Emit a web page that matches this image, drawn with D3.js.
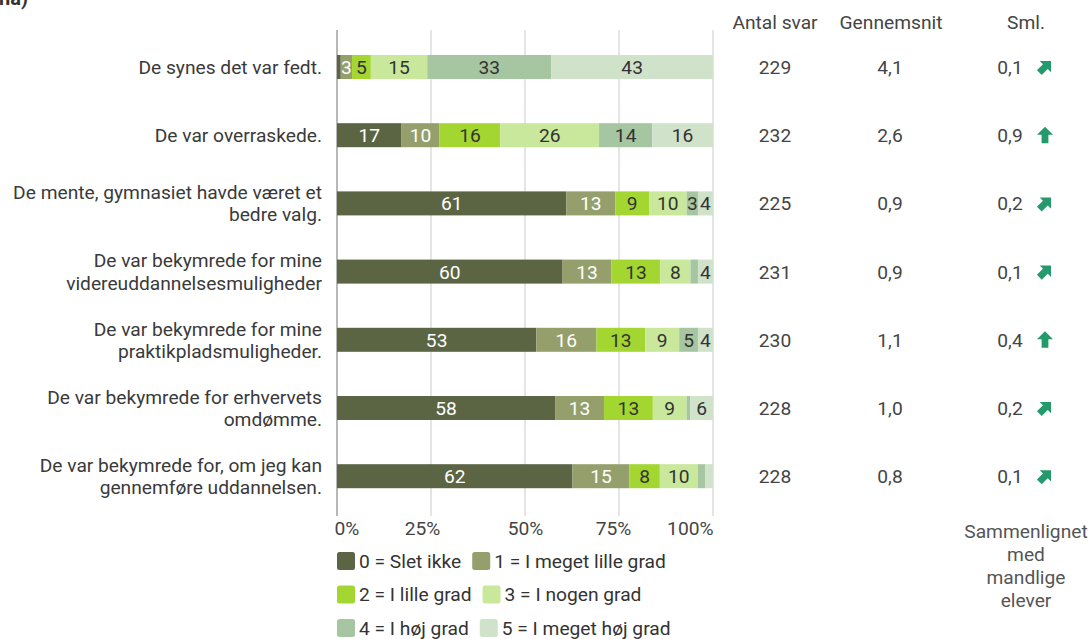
<!DOCTYPE html>
<html>
<head>
<meta charset="utf-8">
<script src="https://cdn.jsdelivr.net/npm/d3@7"></script>
<style>
  html, body { margin: 0; padding: 0; background: #fff; }
  svg { display: block; font-family: Roboto, "Noto Sans", sans-serif; }
</style>
</head>
<body>
<svg id="chart" width="1092" height="639"></svg>
<script>
// Statements (multi-line labels split by "\n")
const categories = [
  "De synes det var fedt.",
  "De var overraskede.",
  "De mente, gymnasiet havde været et\nbedre valg.",
  "De var bekymrede for mine\nvidereuddannelsesmuligheder",
  "De var bekymrede for mine\npraktikpladsmuligheder.",
  "De var bekymrede for erhvervets\nomdømme.",
  "De var bekymrede for, om jeg kan\ngennemføre uddannelsen."
];

// Answer scale
const levels = [
  "0 = Slet ikke",
  "1 = I meget lille grad",
  "2 = I lille grad",
  "3 = I nogen grad",
  "4 = I høj grad",
  "5 = I meget høj grad"
];

// Percent per answer level, one array per level (same order as categories)
const level0 = [1, 17, 61, 60, 53, 58, 62];
const level1 = [3, 10, 13, 13, 16, 13, 15];
const level2 = [5, 16, 9, 13, 13, 13, 8];
const level3 = [15, 26, 10, 8, 9, 9, 10];
const level4 = [33, 14, 3, 2, 5, 1, 2];
const level5 = [43, 16, 4, 4, 4, 6, 2];

// Side columns
const antalSvar = [229, 232, 225, 231, 230, 228, 228];
const gennemsnit = ["4,1", "2,6", "0,9", "0,9", "1,1", "1,0", "0,8"];
const sml = ["0,1", "0,9", "0,2", "0,1", "0,4", "0,2", "0,1"];
// arrow direction for the comparison: "up" or "upright"
const smlArrow = ["upright", "up", "upright", "upright", "up", "upright", "upright"];

const xTicks = [0, 25, 50, 75, 100];

const colors = ["#5b6443", "#949f6c", "#a4d631", "#c9e89b", "#a6c6a2", "#d0e2ca"];
const labelColors = ["#ffffff", "#ffffff", "#333333", "#333333", "#333333", "#333333"];

const series = [level0, level1, level2, level3, level4, level5];

const FS = 19.2; // base font size
const svg = d3.select("#chart");

const x = d3.scaleLinear().domain([0, 100]).range([337, 713]);
const y = d3.scaleBand().domain(categories).range([32.9, 510.3])
  .paddingInner(0.648).paddingOuter(0.324);

// 100 % stacked rows (rounded shares are normalised to fill the bar)
const rows = categories.map((c, i) => {
  const o = { cat: c };
  levels.forEach((l, k) => { o[l] = series[k][i]; });
  return o;
});
const stacked = d3.stack().keys(levels).offset(d3.stackOffsetExpand)(rows);
const xs = v => x(v * 100);

// Heading fragment at the top edge
svg.append("text").attr("x", -1).attr("y", 5)
  .attr("font-size", 20).attr("font-weight", "bold").attr("fill", "#333")
  .text("na)");

// Grid lines
svg.append("g").selectAll("line").data(xTicks).join("line")
  .attr("x1", d => x(d)).attr("x2", d => x(d))
  .attr("y1", 30).attr("y2", 516)
  .attr("stroke", d => d === 0 ? "#b8b8b8" : "#d4d4d4")
  .attr("stroke-width", d => d === 0 ? 2 : 1.2);

// Bars
const layer = svg.append("g").selectAll("g").data(stacked).join("g")
  .attr("fill", (d, k) => colors[k]);

layer.selectAll("rect").data(d => d).join("rect")
  .attr("x", d => xs(d[0]))
  .attr("y", d => y(d.data.cat))
  .attr("width", d => xs(d[1]) - xs(d[0]))
  .attr("height", y.bandwidth());

// Segment value labels
svg.append("g").selectAll("g").data(stacked).join("g")
  .each(function (s, k) {
    d3.select(this).selectAll("text")
      .data(s.filter(d => xs(d[1]) - xs(d[0]) >= 10))
      .join("text")
      .attr("x", d => (xs(d[0]) + xs(d[1])) / 2)
      .attr("y", d => y(d.data.cat) + y.bandwidth() / 2)
      .attr("dy", "0.36em")
      .attr("text-anchor", "middle")
      .attr("font-size", FS)
      .attr("fill", labelColors[k])
      .text(d => d.data[levels[k]]);
  });

// Category labels
const catG = svg.append("g").selectAll("text").data(categories).join("text")
  .attr("text-anchor", "end")
  .attr("font-size", FS)
  .attr("fill", "#3a3a3a");
catG.each(function (c) {
  const lines = c.split("\n");
  const cy = y(c) + y.bandwidth() / 2;
  const lh = 22.3;
  d3.select(this).selectAll("tspan").data(lines).join("tspan")
    .attr("x", 322)
    .attr("y", (d, j) => cy + (j - (lines.length - 1) / 2) * lh)
    .attr("dy", "0.36em")
    .text(d => d);
});

// X axis tick labels
const axis = svg.append("g").attr("transform", "translate(0,520)")
  .call(d3.axisBottom(x).tickValues(xTicks).tickFormat(d => d + "%").tickSize(0));
axis.select(".domain").remove();
axis.selectAll("text")
  .attr("font-family", "Roboto, sans-serif")
  .attr("font-size", FS)
  .attr("fill", "#444")
  .attr("dy", "0.6em")
  .attr("text-anchor", d => d === 0 ? "start" : d === 100 ? "end" : "middle")
  .attr("dx", d => d === 0 ? -3 : d === 100 ? 0 : d === 25 ? -9 : d === 75 ? -6 : 0);

// Column headers
const cols = [
  { title: "Antal svar", cx: 775 },
  { title: "Gennemsnit", cx: 891 },
  { title: "Sml.", cx: 1026 }
];
svg.append("g").selectAll("text").data(cols).join("text")
  .attr("x", d => d.cx).attr("y", 22).attr("dy", "0.36em")
  .attr("text-anchor", "middle").attr("font-size", FS).attr("fill", "#444")
  .text(d => d.title);

// Column values
const valG = svg.append("g");
valG.selectAll("text.antal").data(categories).join("text").attr("class", "antal")
  .attr("x", 775).attr("y", c => y(c) + y.bandwidth() / 2).attr("dy", "0.36em")
  .attr("text-anchor", "middle").attr("font-size", FS).attr("fill", "#444")
  .text((c, i) => antalSvar[i]);
valG.selectAll("text.snit").data(categories).join("text").attr("class", "snit")
  .attr("x", 890).attr("y", c => y(c) + y.bandwidth() / 2).attr("dy", "0.36em")
  .attr("text-anchor", "middle").attr("font-size", FS).attr("fill", "#444")
  .text((c, i) => gennemsnit[i]);
valG.selectAll("text.sml").data(categories).join("text").attr("class", "sml")
  .attr("x", 1010).attr("y", c => y(c) + y.bandwidth() / 2).attr("dy", "0.36em")
  .attr("text-anchor", "middle").attr("font-size", FS).attr("fill", "#444")
  .text((c, i) => sml[i]);

// Arrows (block arrow pointing up; rotated 45° for up-right)
const arrowPath = "M0,-8.5 L8,-0.5 L3.4,-0.5 L3.4,8 L-3.4,8 L-3.4,-0.5 L-8,-0.5 Z";
valG.selectAll("path.arrow").data(categories).join("path").attr("class", "arrow")
  .attr("d", arrowPath)
  .attr("fill", "#24996b")
  .attr("transform", (c, i) => `translate(1045,${y(c) + y.bandwidth() / 2}) rotate(${smlArrow[i] === "up" ? 0 : 45})`);

// Footnote under Sml. column
const note = ["Sammenlignet", "med", "mandlige", "elever"];
svg.append("text").attr("font-size", FS).attr("fill", "#555").attr("text-anchor", "middle")
  .selectAll("tspan").data(note).join("tspan")
  .attr("x", 1026).attr("y", (d, j) => 531 + j * 23).attr("dy", "0.36em")
  .text(d => d);

// Legend: items flow left to right, two per line
const legend = svg.append("g").attr("font-size", FS).attr("fill", "#333");
const legendRows = [[0, 1], [2, 3], [4, 5]];
legendRows.forEach((r, ri) => {
  let lx = 337;
  const ly = 561 + ri * 33.5;
  r.forEach(k => {
    const g = legend.append("g");
    g.append("rect").attr("x", lx).attr("y", ly - 9).attr("width", 18).attr("height", 18)
      .attr("rx", 2.5).attr("fill", colors[k]);
    const t = g.append("text").attr("x", lx + 22).attr("y", ly).attr("dy", "0.36em")
      .attr("fill", "#333").text(levels[k]);
    lx += 22 + t.node().getComputedTextLength() + 11;
  });
});
</script>
</body>
</html>
